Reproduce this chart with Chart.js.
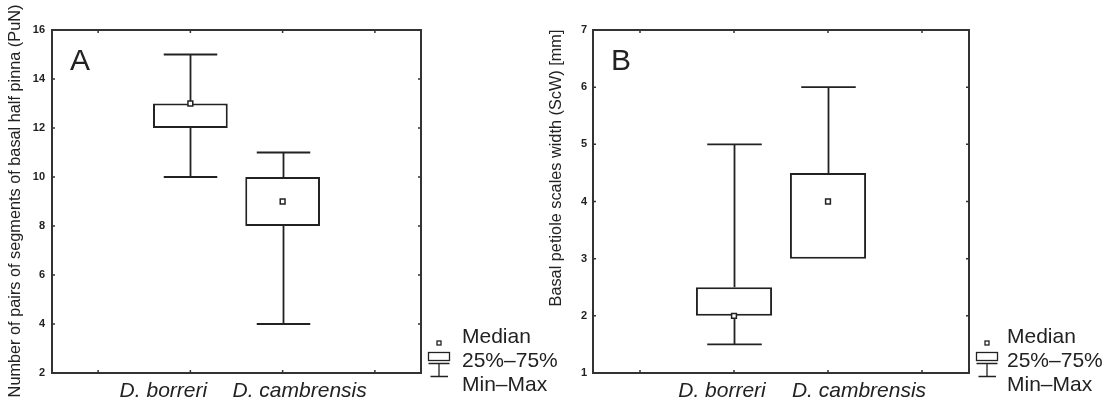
<!DOCTYPE html>
<html lang="en">
<head>
<meta charset="UTF-8">
<title>PuN / ScW box plots</title>
<script src="https://cdn.jsdelivr.net/npm/chart.js"></script>
<style>
  body { margin: 0; background: #fff; }
  .row { position: relative; width: 1115px; height: 403px; overflow: hidden; }
  canvas { display: block; position: absolute; top: 0; }
  #chartA { left: 0; }
  #chartB { left: 540px; }
</style>
</head>
<body>
<div class="row">
  <canvas id="chartA" width="575" height="403"></canvas>
  <canvas id="chartB" width="575" height="403"></canvas>
</div>
<script>
const categories = ['D. borreri', 'D. cambrensis'];

// panel A - number of pairs of segments (PuN)
const minA = [10, 4];
const q1A = [12, 8];
const medianA = [13, 9];
const q3A = [13, 10];
const maxA = [15, 11];
const yTicksA = [2, 4, 6, 8, 10, 12, 14, 16];

// panel B - scale width (ScW) in mm
const minB = [1.5, 3];
const q1B = [2, 3];
const medianB = [2, 4];
const q3B = [2.5, 4.5];
const maxB = [5, 6];
const yTicksB = [1, 2, 3, 4, 5, 6, 7];

const legendLabels = ['Median', '25%\u201375%', 'Min\u2013Max'];

const FONT = '"Liberation Sans", Arial, sans-serif';
const INK = '#222';

// pad the two groups with an empty slot on each side, like the original axis
const pad = arr => [null, ...arr, null];

const boxExtras = {
    id: 'boxExtras',
    beforeDatasetsDraw(chart, args, o) {
        const ctx = chart.ctx, xs = chart.scales.x, ys = chart.scales.y;
        const cap = (xs.getPixelForTick(1) - xs.getPixelForTick(0)) * 0.29;
        ctx.save();
        ctx.strokeStyle = INK;
        ctx.lineWidth = 1.8;
        o.mins.forEach((mn, i) => {
            const x = Math.round(xs.getPixelForValue(i + 1)) + 0.5;
            const yHi = ys.getPixelForValue(o.maxs[i]);
            ctx.beginPath();
            ctx.moveTo(x, ys.getPixelForValue(o.q3s[i])); ctx.lineTo(x, yHi);
            ctx.moveTo(x - cap, yHi); ctx.lineTo(x + cap, yHi);
            if (mn < o.q1s[i]) {
                const yLo = ys.getPixelForValue(mn);
                ctx.moveTo(x, ys.getPixelForValue(o.q1s[i])); ctx.lineTo(x, yLo);
                ctx.moveTo(x - cap, yLo); ctx.lineTo(x + cap, yLo);
            }
            ctx.stroke();
        });
        ctx.restore();
    },
    afterDraw(chart, args, o) {
        const ctx = chart.ctx, a = chart.chartArea;
        const xs = chart.scales.x, ys = chart.scales.y;
        ctx.save();
        ctx.strokeStyle = '#333';
        ctx.lineWidth = 2;
        ctx.strokeRect(a.left, a.top, a.right - a.left, a.bottom - a.top);

        // small inward ticks on all four sides
        ctx.lineWidth = 1.5;
        ctx.beginPath();
        ys.ticks.forEach(t => {
            const y = ys.getPixelForValue(t.value);
            ctx.moveTo(a.left, y); ctx.lineTo(a.left + 3, y);
            ctx.moveTo(a.right, y); ctx.lineTo(a.right - 3, y);
        });
        xs.ticks.forEach((t, i) => {
            const x = xs.getPixelForTick(i);
            ctx.moveTo(x, a.top); ctx.lineTo(x, a.top + 3);
            ctx.moveTo(x, a.bottom); ctx.lineTo(x, a.bottom - 3);
        });
        ctx.stroke();

        // category labels
        ctx.fillStyle = INK;
        ctx.font = 'italic 21px ' + FONT;
        ctx.textAlign = 'center';
        ctx.textBaseline = 'alphabetic';
        categories.forEach((c, i) => {
            ctx.fillText(c, xs.getPixelForValue(i + 1) + o.labelShift[i], 397);
        });

        // panel letter
        ctx.font = '30px ' + FONT;
        ctx.textAlign = 'left';
        ctx.fillText(o.letter, a.left + 18, 70);

        // y axis title
        ctx.save();
        ctx.translate(o.titleX, o.titleY);
        ctx.rotate(-Math.PI / 2);
        ctx.font = '16.3px ' + FONT;
        ctx.textAlign = 'center';
        ctx.textBaseline = 'middle';
        ctx.fillText(o.yTitle, 0, 0);
        ctx.restore();

        // legend
        const lx = a.right;
        ctx.strokeStyle = INK;
        ctx.lineWidth = 1.3;
        ctx.strokeRect(lx + 16, 341, 4, 4);
        ctx.strokeRect(lx + 7.5, 352.5, 21, 8);
        ctx.beginPath();
        ctx.moveTo(lx + 7.5, 363.5); ctx.lineTo(lx + 28.5, 363.5);
        ctx.moveTo(lx + 18, 363.5); ctx.lineTo(lx + 18, 376.5);
        ctx.moveTo(lx + 9.5, 376.5); ctx.lineTo(lx + 27, 376.5);
        ctx.stroke();
        ctx.font = '21px ' + FONT;
        ctx.textAlign = 'left';
        ctx.textBaseline = 'alphabetic';
        legendLabels.forEach((t, i) => {
            ctx.fillText(t, lx + o.legendGap, 343 + i * 24);
        });
        ctx.restore();
    }
};

function makeBoxChart(id, p) {
    return new Chart(document.getElementById(id), {
        type: 'bar',
        data: {
            labels: pad(categories.map(() => '')).map(v => v || ''),
            datasets: [{
                type: 'line',
                data: pad(p.median),
                showLine: false,
                pointStyle: 'rect',
                pointRadius: 3.4,
                pointBorderWidth: 1.5,
                pointBackgroundColor: '#fff',
                pointBorderColor: INK,
                order: 0
            }, {
                data: pad(p.q1.map((v, i) => [v, p.q3[i]])),
                backgroundColor: '#fff',
                borderColor: INK,
                borderWidth: 2,
                borderSkipped: false,
                barPercentage: 0.81,
                categoryPercentage: 1,
                order: 1
            }]
        },
        options: {
            responsive: false,
            animation: false,
            events: [],
            layout: { padding: { left: 0, top: 30, right: p.padRight, bottom: 0 } },
            scales: {
                x: {
                    offset: true,
                    grid: { display: false, drawTicks: false, offset: false },
                    border: { display: false },
                    ticks: { display: false },
                    afterFit: s => { s.height = 30; }
                },
                y: {
                    min: p.yTicks[0],
                    max: p.yTicks[p.yTicks.length - 1],
                    afterBuildTicks: s => { s.ticks = p.yTicks.map(v => ({ value: v })); },
                    grid: { display: false, drawTicks: false },
                    border: { display: false },
                    ticks: {
                        padding: p.tickPad,
                        color: INK,
                        font: { family: FONT, size: 11, weight: 'bold' }
                    },
                    afterFit: s => { s.width = p.axisWidth; }
                }
            },
            plugins: {
                legend: { display: false },
                tooltip: { enabled: false },
                boxExtras: {
                    mins: p.min,
                    q1s: p.q1,
                    q3s: p.q3,
                    maxs: p.max,
                    letter: p.letter,
                    yTitle: p.yTitle,
                    titleX: p.titleX,
                    titleY: p.titleY,
                    labelShift: p.labelShift,
                    legendGap: p.legendGap
                }
            }
        },
        plugins: [boxExtras]
    });
}

makeBoxChart('chartA', {
    min: minA, q1: q1A, median: medianA, q3: q3A, max: maxA, yTicks: yTicksA,
    letter: 'A',
    yTitle: 'Number of pairs of segments of basal half pinna (PuN)',
    titleX: 16, titleY: 201,
    labelShift: [-27, 17],
    axisWidth: 52, padRight: 154, tickPad: 7, legendGap: 41
});

makeBoxChart('chartB', {
    min: minB, q1: q1B, median: medianB, q3: q3B, max: maxB, yTicks: yTicksB,
    letter: 'B',
    yTitle: 'Basal petiole scales width (ScW) [mm]',
    titleX: 17, titleY: 168,
    labelShift: [-12, 31],
    axisWidth: 53, padRight: 146, tickPad: 6, legendGap: 38
});
</script>
</body>
</html>
